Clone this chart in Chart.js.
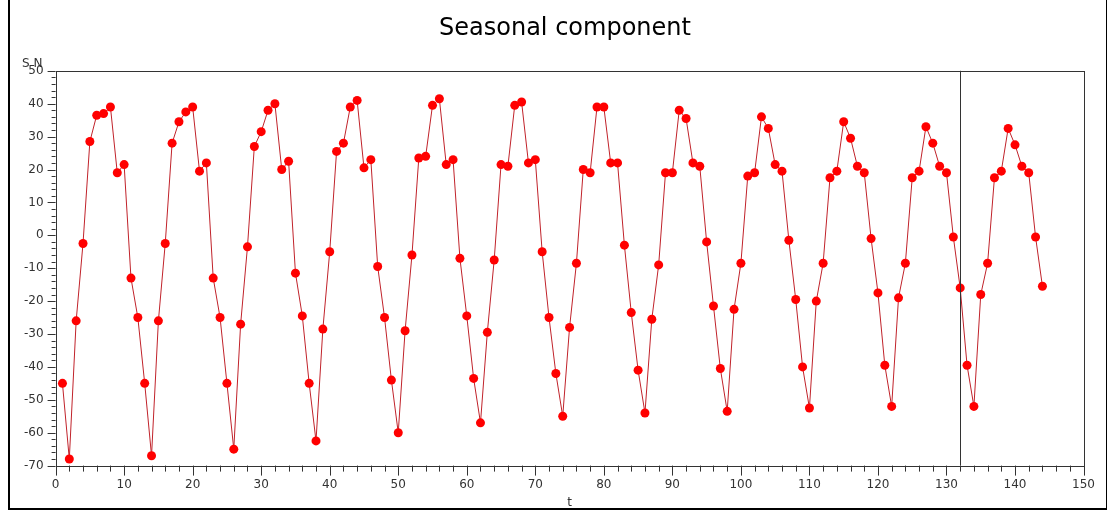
<!DOCTYPE html>
<html>
<head>
<meta charset="utf-8">
<script src="https://cdn.jsdelivr.net/npm/chart.js@4"></script>
<style>
  body { margin: 0; background: #fff; }
  #wrap { position: relative; width: 1107px; height: 511px; }
  #frame { position: absolute; left: 8px; top: 0; width: 1096px; height: 508px; border: 2px solid #000; border-top: none; box-sizing: content-box; pointer-events: none; }
</style>
</head>
<body>
<div id="wrap">
  <canvas id="chart" width="1107" height="511"></canvas>
  <div id="frame"></div>
</div>
<script>
const titleText = 'Seasonal component';
const yLabel = 'SN';
const xLabel = 't';
const refLineAt = 132;

const snValues = [
    -45, -68, -26, -2.5, 28.5, 36.5, 37, 39, 19, 21.5, -13, -25,
    -45, -67, -26, -2.5, 28, 34.5, 37.5, 39, 19.5, 22, -13, -25,
    -45, -65, -27, -3.5, 27, 31.5, 38, 40, 20, 22.5, -11.5, -24.5,
    -45, -62.5, -28.5, -5, 25.5, 28, 39, 41, 20.5, 23, -9.5, -25,
    -44, -60, -29, -6, 23.5, 24, 39.5, 41.5, 21.5, 23, -7, -24.5,
    -43.5, -57, -29.5, -7.5, 21.5, 21, 39.5, 40.5, 22, 23, -5, -25,
    -42, -55, -28, -8.5, 20, 19, 39, 39, 22, 22, -3, -23.5,
    -41, -54, -25.5, -9, 19, 19, 38, 35.5, 22, 21, -2, -21.5,
    -40.5, -53.5, -22.5, -8.5, 18, 19, 36, 32.5, 21.5, 19.5, -1.5, -19.5,
    -40, -52.5, -20, -8.5, 17.5, 19.5, 34.5, 29.5, 21, 19, -1, -17.5,
    -39.5, -52, -19, -8.5, 17.5, 19.5, 33, 28, 21, 19, -0.5, -16,
    -39.5, -52, -18, -8.5, 17.5, 19.5, 32.5, 27.5, 21, 19, -0.5, -15.5
];
const tValues = snValues.map((v, i) => i + 1);

const xMin = 0, xMax = 150, xStep = 10, xMinorStep = 2;
const yMin = -70, yMax = 50, yStep = 10, yMinorStep = 2;

const axisFont = { family: 'DejaVu Sans', size: 12 };

const decor = {
    id: 'decor',
    afterDraw(chart) {
        const { ctx, chartArea: a, scales: { x, y } } = chart;
        ctx.save();
        ctx.strokeStyle = '#333';
        ctx.lineWidth = 1;
        // plot box
        ctx.strokeRect(Math.round(a.left) + 0.5, Math.round(a.top) + 0.5,
            Math.round(a.right - a.left), Math.round(a.bottom - a.top));
        // minor ticks
        ctx.beginPath();
        for (let v = xMin; v <= xMax; v += xMinorStep) {
            const px = Math.round(x.getPixelForValue(v)) + 0.5;
            const len = v % xStep === 0 ? 10 : 6;
            ctx.moveTo(px, a.bottom);
            ctx.lineTo(px, a.bottom + len);
        }
        for (let v = yMin; v <= yMax; v += yMinorStep) {
            const py = Math.round(y.getPixelForValue(v)) + 0.5;
            const len = v % yStep === 0 ? 8 : 4;
            ctx.moveTo(a.left - len, py);
            ctx.lineTo(a.left, py);
        }
        ctx.stroke();
        // reference line
        const rx = Math.round(x.getPixelForValue(refLineAt)) + 0.5;
        ctx.beginPath();
        ctx.moveTo(rx, a.top);
        ctx.lineTo(rx, a.bottom);
        ctx.stroke();
        // axis labels
        ctx.fillStyle = '#333';
        ctx.font = '12px "DejaVu Sans"';
        ctx.textAlign = 'left';
        ctx.fillText(yLabel.split('').join(' '), 22, a.top - 4);
        ctx.textAlign = 'center';
        ctx.fillText(xLabel, (a.left + a.right) / 2, 506);
        ctx.restore();
    }
};

new Chart(document.getElementById('chart'), {
    type: 'line',
    data: {
        labels: tValues,
        datasets: [{
            data: tValues.map((t, i) => ({ x: t, y: snValues[i] })),
            borderColor: '#c0222a',
            borderWidth: 1,
            backgroundColor: '#ff0000',
            pointBackgroundColor: '#ff0000',
            pointBorderColor: '#e00000',
            pointRadius: 4.5,
            pointBorderWidth: 0,
            tension: 0
        }]
    },
    options: {
        responsive: false,
        animation: false,
        layout: { padding: { left: 12, right: -11, top: 2, bottom: 7 } },
        plugins: {
            legend: { display: false },
            tooltip: { enabled: false },
            title: {
                display: true,
                text: titleText,
                color: '#000',
                font: { family: 'DejaVu Sans', size: 24, weight: 'normal' },
                padding: { top: 12, bottom: 28 }
            }
        },
        scales: {
            x: {
                type: 'linear',
                min: xMin, max: xMax,
                offset: false,
                grid: { display: false, drawTicks: false },
                border: { display: false },
                ticks: { stepSize: xStep, color: '#333', font: axisFont, padding: 12, maxRotation: 0 }
            },
            y: {
                min: yMin, max: yMax,
                grid: { display: false, drawTicks: false },
                border: { display: false },
                ticks: { stepSize: yStep, color: '#333', font: axisFont, padding: 12 }
            }
        }
    },
    plugins: [decor]
});
</script>
</body>
</html>
